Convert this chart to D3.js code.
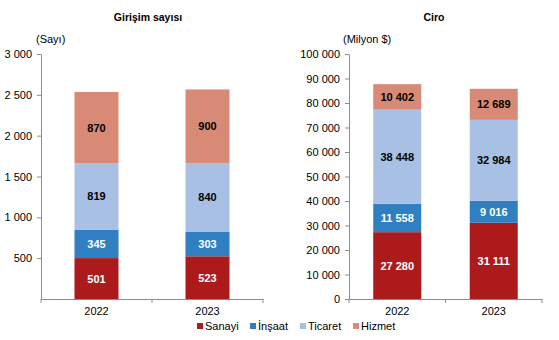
<!DOCTYPE html>
<html><head><meta charset="utf-8">
<script src="https://cdn.jsdelivr.net/npm/d3@7"></script>
<style>
html,body{margin:0;padding:0;background:#fff;}
svg{display:block;font-family:"Liberation Sans",Arial,sans-serif;}
</style></head>
<body>
<svg id="chart" width="559" height="340"></svg>
<script>
const years = ["2022", "2023"];
const seriesNames = ["Sanayi", "İnşaat", "Ticaret", "Hizmet"];
const seriesColors = ["#AD1A1C", "#2F7FC1", "#A8C0E4", "#D88A77"];
const labelColors = ["#fff", "#fff", "#000", "#000"];
// Girişim sayısı
const countSanayi = [501, 523];
const countInsaat = [345, 303];
const countTicaret = [819, 840];
const countHizmet = [870, 900];
const countTicks = [500, 1000, 1500, 2000, 2500, 3000];
// Ciro (Milyon $)
const ciroSanayi = [27280, 31111];
const ciroInsaat = [11558, 9016];
const ciroTicaret = [38448, 32984];
const ciroHizmet = [10402, 12689];
const ciroTicks = [0, 10000, 20000, 30000, 40000, 50000, 60000, 70000, 80000, 90000, 100000];

const loc = d3.formatLocale({decimal: ",", thousands: " ", grouping: [3], currency: ["", ""]});
const fmt = loc.format(",");
const svg = d3.select("#chart");
const axisColor = "#8c8c8c";

function panel(cfg) {
  const g = svg.append("g");
  const x = d3.scaleBand().domain(years).range([cfg.x0, cfg.x1]);
  const y = d3.scaleLinear().domain([0, cfg.max]).range([cfg.y0, cfg.yTop]);
  const rows = years.map((yr, i) => {
    const o = {year: yr};
    seriesNames.forEach((s, k) => o[s] = cfg.series[k][i]);
    return o;
  });
  const stacked = d3.stack().keys(seriesNames)(rows);

  // title
  g.append("text").attr("x", cfg.titleX).attr("y", 21).attr("text-anchor", "middle")
    .attr("font-weight", "bold").attr("font-size", 10.5).attr("fill", "#000").text(cfg.title);
  g.append("text").attr("x", cfg.unitX).attr("y", 43).attr("font-size", 11).attr("fill", "#000").text(cfg.unit);

  // bars
  stacked.forEach((layer, k) => {
    layer.forEach((d, i) => {
      const cx = x(years[i]) + x.bandwidth() / 2;
      g.append("rect")
        .attr("x", cx - cfg.barW / 2).attr("width", cfg.barW)
        .attr("y", y(d[1])).attr("height", y(d[0]) - y(d[1]))
        .attr("fill", seriesColors[k]);
      g.append("text").attr("x", cx).attr("y", (y(d[0]) + y(d[1])) / 2 + 4)
        .attr("text-anchor", "middle").attr("font-weight", "bold").attr("font-size", 11)
        .attr("fill", labelColors[k]).text(fmt(d[1] - d[0]));
    });
  });

  // y axis
  const ya = g.append("g").attr("transform", `translate(${cfg.x0},0)`)
    .call(d3.axisLeft(y).tickValues(cfg.ticks).tickFormat(fmt).tickSize(4).tickSizeOuter(0).tickPadding(5));
  ya.select(".domain").attr("stroke", axisColor);
  ya.selectAll(".tick line").attr("stroke", axisColor);
  ya.selectAll(".tick text").attr("font-size", 11).attr("fill", "#000").attr("font-family", "Liberation Sans, Arial, sans-serif");

  // x axis
  const xa = g.append("g").attr("transform", `translate(0,${cfg.y0})`)
    .call(d3.axisBottom(x).tickSize(0).tickPadding(8));
  xa.select(".domain").attr("stroke", axisColor);
  xa.selectAll(".tick text").attr("font-size", 11).attr("fill", "#000").attr("font-family", "Liberation Sans, Arial, sans-serif");
  // category separator ticks
  const seps = [cfg.x0, x(years[1]), cfg.x1];
  xa.selectAll(".sep").data(seps).enter().append("line")
    .attr("x1", d => d).attr("x2", d => d).attr("y1", 0).attr("y2", 4).attr("stroke", axisColor);
}

panel({
  title: "Girişim sayısı", titleX: 148, unit: "(Sayı)", unitX: 36,
  x0: 41, x1: 263, y0: 299, yTop: 54, max: 3000, barW: 44,
  ticks: countTicks, series: [countSanayi, countInsaat, countTicaret, countHizmet]
});
panel({
  title: "Ciro", titleX: 434, unit: "(Milyon $)", unitX: 343,
  x0: 349, x1: 542, y0: 299, yTop: 54, max: 100000, barW: 48,
  ticks: ciroTicks, series: [ciroSanayi, ciroInsaat, ciroTicaret, ciroHizmet]
});

// legend
const legendX = [197, 250, 300, 353];
const lg = svg.append("g");
seriesNames.forEach((s, k) => {
  lg.append("rect").attr("x", legendX[k]).attr("y", 323).attr("width", 6).attr("height", 6).attr("fill", seriesColors[k]);
  lg.append("text").attr("x", legendX[k] + 8).attr("y", 330).attr("font-size", 11).attr("fill", "#000").text(s);
});
</script>
</body></html>
